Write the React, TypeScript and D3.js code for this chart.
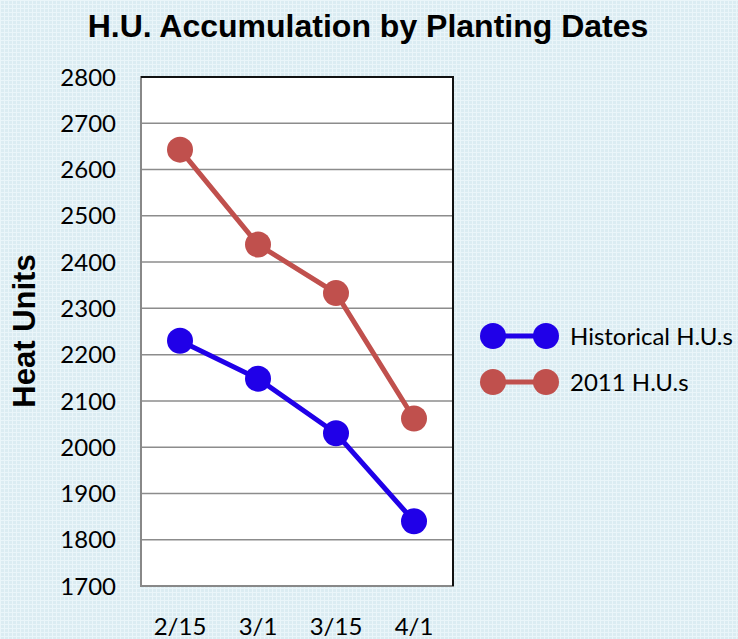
import * as d3 from "d3";
import { useEffect, useRef } from "react";

const dates = ["2/15", "3/1", "3/15", "4/1"];
const historical = [2230, 2148, 2030, 1840];
const hu2011 = [2643, 2438, 2333, 2062];
const yTicks = [1700, 1800, 1900, 2000, 2100, 2200, 2300, 2400, 2500, 2600, 2700, 2800];
const seriesNames = ["Historical H.U.s", "2011 H.U.s"];
const seriesColors = ["#2000e8", "#c0504d"];

export default function App() {
  const ref = useRef<SVGSVGElement>(null);

  useEffect(() => {
    const svg = d3.select(ref.current);
    svg.selectAll("*").remove();

    const width = 738, height = 639;
    const left = 141, right = 453, top = 77, bottom = 586;
    const bodyFont = "Lato, Open Sans, sans-serif";

    // background texture
    const defs = svg.append("defs");
    const pat = defs.append("pattern").attr("id", "bgpat").attr("width", 4).attr("height", 4).attr("patternUnits", "userSpaceOnUse");
    pat.append("rect").attr("width", 4).attr("height", 4).attr("fill", "#dbecf2");
    pat.append("rect").attr("x", 0).attr("y", 0).attr("width", 4).attr("height", 1).attr("fill", "#eaf5f9");
    pat.append("rect").attr("x", 0).attr("y", 0).attr("width", 1).attr("height", 4).attr("fill", "#eaf5f9");
    svg.append("rect").attr("width", width).attr("height", height).attr("fill", "url(#bgpat)");

    const x = d3.scaleBand().domain(dates).range([left, right]);
    const y = d3.scaleLinear().domain([1700, 2800]).range([bottom, top]);

    svg.append("rect").attr("x", left).attr("y", top).attr("width", right - left).attr("height", bottom - top)
      .attr("fill", "#fff");

    // gridlines
    svg.append("g").selectAll("line").data(yTicks.slice(1, -1)).enter().append("line")
      .attr("x1", left).attr("x2", right)
      .attr("y1", d => y(d)).attr("y2", d => y(d))
      .attr("stroke", "#8c8c8c").attr("stroke-width", 1.5);

    // frame: gray left/bottom, dark top/right
    svg.append("rect").attr("x", left).attr("y", top).attr("width", right - left).attr("height", bottom - top)
      .attr("fill", "none").attr("stroke", "#888").attr("stroke-width", 2);
    svg.append("path").attr("d", `M${left},${top}H${right}V${bottom}`)
      .attr("fill", "none").attr("stroke", "#111").attr("stroke-width", 2);

    // y tick labels
    svg.append("g").selectAll("text").data(yTicks).enter().append("text")
      .attr("x", 116).attr("y", d => y(d)).attr("dy", "0.36em")
      .attr("text-anchor", "end").attr("font-family", bodyFont).attr("font-size", 24)
      .attr("fill", "#000").text(d => d);

    // x labels
    svg.append("g").selectAll("text").data(dates).enter().append("text")
      .attr("x", d => x(d)! + x.bandwidth() / 2).attr("y", 635)
      .attr("text-anchor", "middle").attr("font-family", bodyFont).attr("font-size", 24)
      .attr("fill", "#000").text(d => d);

    const line = d3.line<number>().x((d, i) => x(dates[i])! + x.bandwidth() / 2).y(d => y(d));
    [historical, hu2011].forEach((vals, k) => {
      const g = svg.append("g");
      g.append("path").datum(vals).attr("d", line).attr("fill", "none")
        .attr("stroke", seriesColors[k]).attr("stroke-width", 5);
      g.selectAll("circle").data(vals).enter().append("circle")
        .attr("cx", (d, i) => x(dates[i])! + x.bandwidth() / 2).attr("cy", d => y(d))
        .attr("r", 13).attr("fill", seriesColors[k]);
    });

    // title
    svg.append("text").attr("x", 368).attr("y", 37).attr("text-anchor", "middle")
      .attr("font-family", "Liberation Sans, Arial, sans-serif").attr("font-weight", "bold").attr("font-size", 32)
      .text("H.U. Accumulation by Planting Dates");

    // y title
    svg.append("text").attr("transform", "translate(35,331) rotate(-90)").attr("text-anchor", "middle")
      .attr("font-family", "Liberation Sans, Arial, sans-serif").attr("font-weight", "bold").attr("font-size", 31)
      .text("Heat Units");

    // legend
    const lg = svg.append("g").selectAll("g").data(seriesNames).enter().append("g")
      .attr("transform", (d, i) => `translate(0,${336 + i * 46})`);
    lg.append("line").attr("x1", 493).attr("x2", 546).attr("stroke", (d, i) => seriesColors[i]).attr("stroke-width", 5);
    lg.append("circle").attr("cx", 493).attr("r", 13).attr("fill", (d, i) => seriesColors[i]);
    lg.append("circle").attr("cx", 546).attr("r", 13).attr("fill", (d, i) => seriesColors[i]);
    lg.append("text").attr("x", 570).attr("dy", "0.36em").attr("font-family", bodyFont)
      .attr("font-size", 24).attr("fill", "#000").text(d => d);
  }, []);

  return (
    <svg ref={ref} width={738} height={639} style={{ position: "absolute", left: 0, top: 0, display: "block" }} />
  );
}
